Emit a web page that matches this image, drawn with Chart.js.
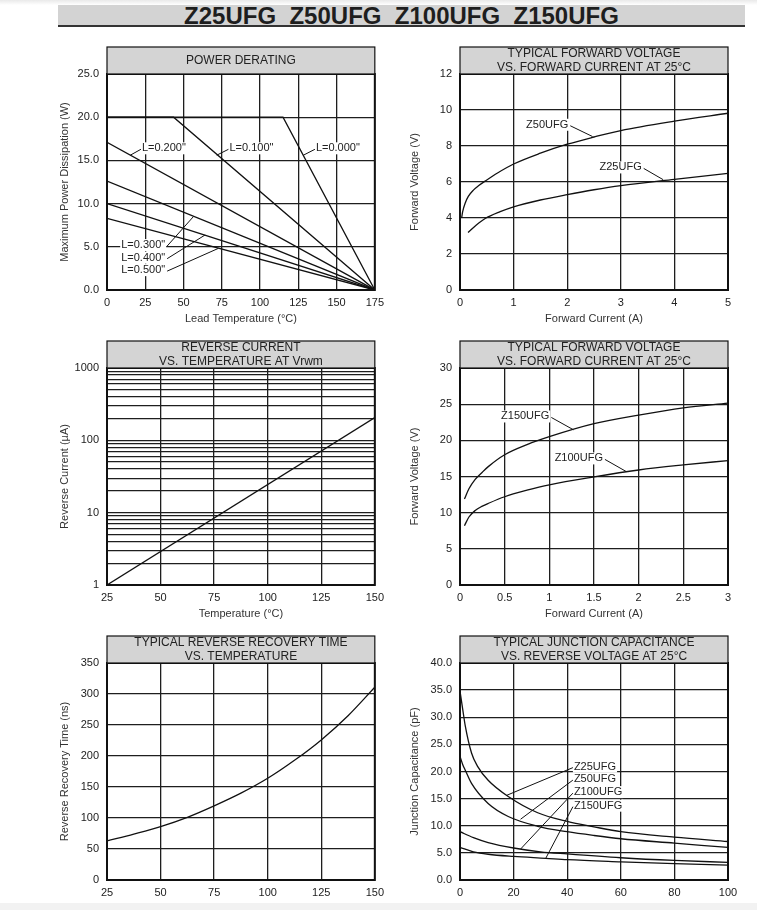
<!DOCTYPE html>
<html>
<head>
<meta charset="utf-8">
<title>Z25UFG Z50UFG Z100UFG Z150UFG</title>
<script src="https://cdn.jsdelivr.net/npm/chart.js@4.4.1/dist/chart.umd.min.js"></script>
<style>
  html, body { margin: 0; padding: 0; background: #fff; }
  body { width: 757px; height: 910px; position: relative; overflow: hidden; font-family: "Liberation Sans", Arial, sans-serif; }
  #topShade { position: absolute; left: 0; top: 0; width: 757px; height: 5px; background: linear-gradient(#e9e9e9, #fff); }
  #bottomShade { position: absolute; left: 0; top: 903px; width: 757px; height: 7px; background: #f2f2f2; }
  #titleBar { position: absolute; left: 58px; top: 5px; width: 687px; height: 20px; background: #d3d3d3; border-bottom: 2px solid #333;
              text-align: center; font-weight: bold; font-size: 24px; line-height: 22px; color: #1e1e1e; white-space: pre; }
  canvas { position: absolute; }
</style>
</head>
<body>
<div id="topShade"></div>
<div id="titleBar">Z25UFG  Z50UFG  Z100UFG  Z150UFG</div>
<canvas id="derating" width="350" height="295" style="left:40px;top:40px"></canvas>
<canvas id="vfLow" width="357" height="295" style="left:393px;top:40px"></canvas>
<canvas id="irTemp" width="350" height="290" style="left:40px;top:335px"></canvas>
<canvas id="vfHigh" width="357" height="290" style="left:393px;top:335px"></canvas>
<canvas id="trrTemp" width="350" height="282" style="left:40px;top:628px"></canvas>
<canvas id="cjVolt" width="357" height="282" style="left:393px;top:628px"></canvas>
<div id="bottomShade"></div>

<script>
// ---- values ----

// power derating: lead temperature (°C) -> max power (W)
const derateTicksX = [0, 25, 50, 75, 100, 125, 150, 175];
const derateTicksY = [0, 5, 10, 15, 20, 25];
const derateTempL000 = [0, 115, 175];
const deratePowerL000 = [20, 20, 0];
const derateTempL100 = [0, 43.5, 175];
const deratePowerL100 = [20, 20, 0];
const derateTempL200 = [0, 175];
const deratePowerL200 = [17.1, 0];
const derateTempL300 = [0, 175];
const deratePowerL300 = [12.6, 0];
const derateTempL400 = [0, 175];
const deratePowerL400 = [10.0, 0];
const derateTempL500 = [0, 175];
const deratePowerL500 = [8.3, 0];

// forward voltage vs current, Z25UFG / Z50UFG
const vfLowTicksX = [0, 1, 2, 3, 4, 5];
const vfLowTicksY = [0, 2, 4, 6, 8, 10, 12];
const z50Current = [0.03, 0.05, 0.1, 0.155, 0.25, 0.35, 0.47, 0.7, 1, 1.5, 2, 2.5, 3, 4, 5];
const z50Voltage = [4.0, 4.35, 4.85, 5.2, 5.55, 5.8, 6.05, 6.5, 7.0, 7.6, 8.1, 8.5, 8.86, 9.38, 9.82];
const z25Current = [0.15, 0.3, 0.47, 0.75, 1, 1.5, 2, 2.5, 3, 4, 5];
const z25Voltage = [3.2, 3.6, 3.97, 4.35, 4.62, 5.0, 5.3, 5.57, 5.8, 6.15, 6.48];

// reverse current vs temperature (log axis)
const irTicksX = [25, 50, 75, 100, 125, 150];
const irTicksY = [1, 2, 3, 4, 5, 6, 7, 8, 9, 10, 20, 30, 40, 50, 60, 70, 80, 90,
                  100, 200, 300, 400, 500, 600, 700, 800, 900, 1000];
const irLabels = [1, 10, 100, 1000];
const irTemp = [25, 150];
const irCurrent = [1, 207];

// forward voltage vs current, Z100UFG / Z150UFG
const vfHighTicksX = [0, 0.5, 1, 1.5, 2, 2.5, 3];
const vfHighTicksY = [0, 5, 10, 15, 20, 25, 30];
const z150Current = [0.05, 0.1, 0.17, 0.25, 0.32, 0.5, 0.75, 1, 1.5, 2, 2.5, 3];
const z150Voltage = [11.9, 13.3, 14.6, 15.6, 16.4, 18.0, 19.4, 20.5, 22.3, 23.5, 24.5, 25.15];
const z100Current = [0.05, 0.1, 0.17, 0.25, 0.32, 0.5, 0.75, 1, 1.5, 2, 2.5, 3];
const z100Voltage = [8.2, 9.4, 10.3, 10.9, 11.3, 12.2, 13.1, 13.85, 14.95, 15.9, 16.6, 17.2];

// reverse recovery time vs temperature
const trrTicksX = [25, 50, 75, 100, 125, 150];
const trrTicksY = [0, 50, 100, 150, 200, 250, 300, 350];
const trrTempC = [25, 37.5, 50, 62.5, 75, 87.5, 100, 112.5, 125, 137.5, 150];
const trrTimeNs = [63, 74, 86, 101, 119.5, 140, 164, 193, 226, 265, 311];

// junction capacitance vs reverse voltage
const cjTicksX = [0, 20, 40, 60, 80, 100];
const cjTicksY = [0, 5, 10, 15, 20, 25, 30, 35, 40];
const cjVoltZ25 = [0, 1, 2, 4.3, 6.5, 10.5, 18, 29, 40, 50, 60, 80, 100];
const cjZ25 = [34.8, 31.5, 28.3, 23.4, 21.0, 18.4, 15.4, 12.4, 10.8, 9.8, 8.9, 7.9, 7.1];
const cjVoltZ50 = [0, 1, 2, 4.3, 10.5, 18, 29, 40, 50, 60, 80, 100];
const cjZ50 = [22.8, 21.3, 20.2, 17.8, 14.1, 11.7, 9.9, 8.9, 8.2, 7.6, 6.8, 6.0];
const cjVoltZ100 = [0, 5, 10.5, 20, 30, 40, 60, 80, 100];
const cjZ100 = [8.9, 7.8, 6.9, 5.9, 5.2, 4.8, 4.1, 3.6, 3.25];
const cjVoltZ150 = [0, 5, 10.5, 20, 32, 40, 60, 80, 100];
const cjZ150 = [6.0, 5.2, 4.75, 4.35, 4.0, 3.75, 3.35, 3.0, 2.75];

const FONT = '"Liberation Sans", Arial, sans-serif';
Chart.defaults.font.family = FONT;
Chart.defaults.font.size = 11;
Chart.defaults.color = '#222';

// header box, frame and callout labels drawn on top of each panel
const panelDeco = {
    id: 'panelDeco',
    afterDatasetsDraw(chart, args, o) {
        const { ctx, chartArea: a, scales: { x, y } } = chart;
        ctx.save();

        // callout labels with leader lines
        ctx.font = '11px ' + FONT;
        ctx.textBaseline = 'middle';
        ctx.textAlign = 'left';
        (o.labels || []).forEach(l => {
            const tx = x.getPixelForValue(l.x), ty = y.getPixelForValue(l.y);
            const px = x.getPixelForValue(l.lx), py = y.getPixelForValue(l.ly);
            const w = ctx.measureText(l.text).width;
            const left = l.side === 'left' ? tx : tx - w;
            ctx.fillStyle = '#fff';
            ctx.fillRect(left - 1, ty - 6, w + 2, 12);
            ctx.fillStyle = '#222';
            ctx.fillText(l.text, left, ty);
            ctx.beginPath();
            ctx.moveTo(l.side === 'left' ? tx - 1 : tx + 2, ty + 1);
            ctx.lineTo(px, py);
            ctx.strokeStyle = '#111';
            ctx.lineWidth = 1;
            ctx.stroke();
        });

        // plot frame
        ctx.strokeStyle = '#111';
        ctx.lineWidth = 2;
        ctx.strokeRect(a.left, a.top, a.right - a.left, a.bottom - a.top);

        // grey header box
        const h = 27;
        ctx.fillStyle = '#d4d4d4';
        ctx.fillRect(a.left, a.top - h, a.right - a.left, h);
        ctx.lineWidth = 1.2;
        ctx.strokeRect(a.left, a.top - h, a.right - a.left, h);
        ctx.fillStyle = '#222';
        ctx.font = '12px ' + FONT;
        ctx.textAlign = 'center';
        const cx = (a.left + a.right) / 2;
        if (o.header.length === 1) {
            ctx.fillText(o.header[0], cx, a.top - 13.5);
        } else {
            ctx.fillText(o.header[0], cx, a.top - 20);
            ctx.fillText(o.header[1], cx, a.top - 6.7);
        }
        ctx.restore();
    }
};

function axis(ticksArr, opt) {
    return {
        type: opt.type || 'linear',
        min: ticksArr[0],
        max: ticksArr[ticksArr.length - 1],
        afterBuildTicks: s => { s.ticks = ticksArr.map(v => ({ value: v })); },
        afterFit: s => {
            if (s.isHorizontal()) s.height = opt.size; else s.width = opt.size;
        },
        ticks: {
            autoSkip: false,
            maxRotation: 0,
            padding: opt.pad,
            color: '#222',
            font: { size: 11 },
            callback: opt.fmt || (v => String(v))
        },
        grid: { color: '#1e1e1e', lineWidth: 1.3, drawTicks: false },
        border: { display: false },
        title: {
            display: !!opt.title,
            text: opt.title || '',
            color: '#333',
            font: { size: 11 },
            padding: opt.titlePad || 0
        }
    };
}

function makePanel(id, p) {
    const ctx = document.getElementById(id).getContext('2d');
    const datasets = p.series.map(([xs, ys]) => ({
        data: xs.map((v, i) => ({ x: v, y: ys[i] })),
        borderColor: '#111',
        borderWidth: 1.3,
        pointRadius: 0,
        fill: false,
        tension: 0,
        cubicInterpolationMode: p.smooth ? 'monotone' : 'default'
    }));
    const right = p.col === 1;
    const row = [
        { padTop: 34, xSize: 45, xTitlePad: { bottom: 9 } },
        { padTop: 33, xSize: 40, xTitlePad: { bottom: 4 } },
        { padTop: 35, xSize: 30, xTitlePad: { bottom: 0 } }
    ][p.row];

    return new Chart(ctx, {
        type: 'line',
        data: { datasets: datasets },
        options: {
            responsive: false,
            animation: false,
            layout: { padding: { top: row.padTop, right: right ? 22 : 15, left: 0, bottom: 0 } },
            plugins: {
                legend: { display: false },
                tooltip: { enabled: false },
                panelDeco: { header: p.header, labels: p.labels || [] }
            },
            scales: {
                x: axis(p.ticksX, { size: row.xSize, pad: 6, title: p.xTitle, titlePad: row.xTitlePad }),
                y: axis(p.ticksY, {
                    type: p.yType, size: 67, pad: 8, fmt: p.yFmt,
                    title: p.yTitle, titlePad: { top: right ? 15 : 18 }
                })
            }
        },
        plugins: [panelDeco]
    });
}

makePanel('derating', {
    row: 0, col: 0, smooth: false,
    header: ['POWER DERATING'],
    ticksX: derateTicksX, ticksY: derateTicksY,
    yFmt: v => v.toFixed(1),
    xTitle: 'Lead Temperature (°C)', yTitle: 'Maximum Power Dissipation (W)',
    series: [
        [derateTempL000, deratePowerL000], [derateTempL100, deratePowerL100],
        [derateTempL200, deratePowerL200], [derateTempL300, deratePowerL300],
        [derateTempL400, deratePowerL400], [derateTempL500, deratePowerL500]
    ],
    labels: [
        { text: 'L=0.200"', x: 22.8, y: 16.4, lx: 15.2, ly: 15.6, side: 'left' },
        { text: 'L=0.100"', x: 80, y: 16.4, lx: 71.7, ly: 15.6, side: 'left' },
        { text: 'L=0.000"', x: 136.5, y: 16.4, lx: 128.3, ly: 15.6, side: 'left' },
        { text: 'L=0.300"', x: 38, y: 5.2, lx: 56.5, ly: 8.5, side: 'right' },
        { text: 'L=0.400"', x: 38, y: 3.74, lx: 64.1, ly: 6.37, side: 'right' },
        { text: 'L=0.500"', x: 38, y: 2.3, lx: 72.8, ly: 4.82, side: 'right' }
    ]
});

makePanel('vfLow', {
    row: 0, col: 1, smooth: true,
    header: ['TYPICAL FORWARD VOLTAGE', 'VS. FORWARD CURRENT AT 25°C'],
    ticksX: vfLowTicksX, ticksY: vfLowTicksY,
    xTitle: 'Forward Current (A)', yTitle: 'Forward Voltage (V)',
    series: [[z50Current, z50Voltage], [z25Current, z25Voltage]],
    labels: [
        { text: 'Z50UFG', x: 2.02, y: 9.18, lx: 2.47, ly: 8.53, side: 'right' },
        { text: 'Z25UFG', x: 3.39, y: 6.81, lx: 3.79, ly: 6.13, side: 'right' }
    ]
});

makePanel('irTemp', {
    row: 1, col: 0, smooth: false,
    header: ['REVERSE CURRENT', 'VS. TEMPERATURE AT Vrwm'],
    ticksX: irTicksX, ticksY: irTicksY, yType: 'logarithmic',
    yFmt: v => irLabels.includes(v) ? String(v) : '',
    xTitle: 'Temperature (°C)', yTitle: 'Reverse Current (µA)',
    series: [[irTemp, irCurrent]]
});

makePanel('vfHigh', {
    row: 1, col: 1, smooth: true,
    header: ['TYPICAL FORWARD VOLTAGE', 'VS. FORWARD CURRENT AT 25°C'],
    ticksX: vfHighTicksX, ticksY: vfHighTicksY,
    xTitle: 'Forward Current (A)', yTitle: 'Forward Voltage (V)',
    series: [[z150Current, z150Voltage], [z100Current, z100Voltage]],
    labels: [
        { text: 'Z150UFG', x: 1.0, y: 23.3, lx: 1.27, ly: 21.46, side: 'right' },
        { text: 'Z100UFG', x: 1.6, y: 17.5, lx: 1.86, ly: 15.69, side: 'right' }
    ]
});

makePanel('trrTemp', {
    row: 2, col: 0, smooth: true,
    header: ['TYPICAL REVERSE RECOVERY TIME', 'VS. TEMPERATURE'],
    ticksX: trrTicksX, ticksY: trrTicksY,
    yTitle: 'Reverse Recovery Time (ns)',
    series: [[trrTempC, trrTimeNs]]
});

makePanel('cjVolt', {
    row: 2, col: 1, smooth: true,
    header: ['TYPICAL JUNCTION CAPACITANCE', 'VS. REVERSE VOLTAGE AT 25°C'],
    ticksX: cjTicksX, ticksY: cjTicksY,
    yFmt: v => v.toFixed(1),
    yTitle: 'Junction Capacitance (pF)',
    series: [[cjVoltZ25, cjZ25], [cjVoltZ50, cjZ50], [cjVoltZ100, cjZ100], [cjVoltZ150, cjZ150]],
    labels: [
        { text: 'Z25UFG', x: 42.5, y: 20.9, lx: 17.4, ly: 15.6, side: 'left' },
        { text: 'Z50UFG', x: 42.5, y: 18.6, lx: 22.6, ly: 11.2, side: 'left' },
        { text: 'Z100UFG', x: 42.5, y: 16.2, lx: 22.6, ly: 5.7, side: 'left' },
        { text: 'Z150UFG', x: 42.5, y: 13.7, lx: 32, ly: 4.0, side: 'left' }
    ]
});
</script>
</body>
</html>
